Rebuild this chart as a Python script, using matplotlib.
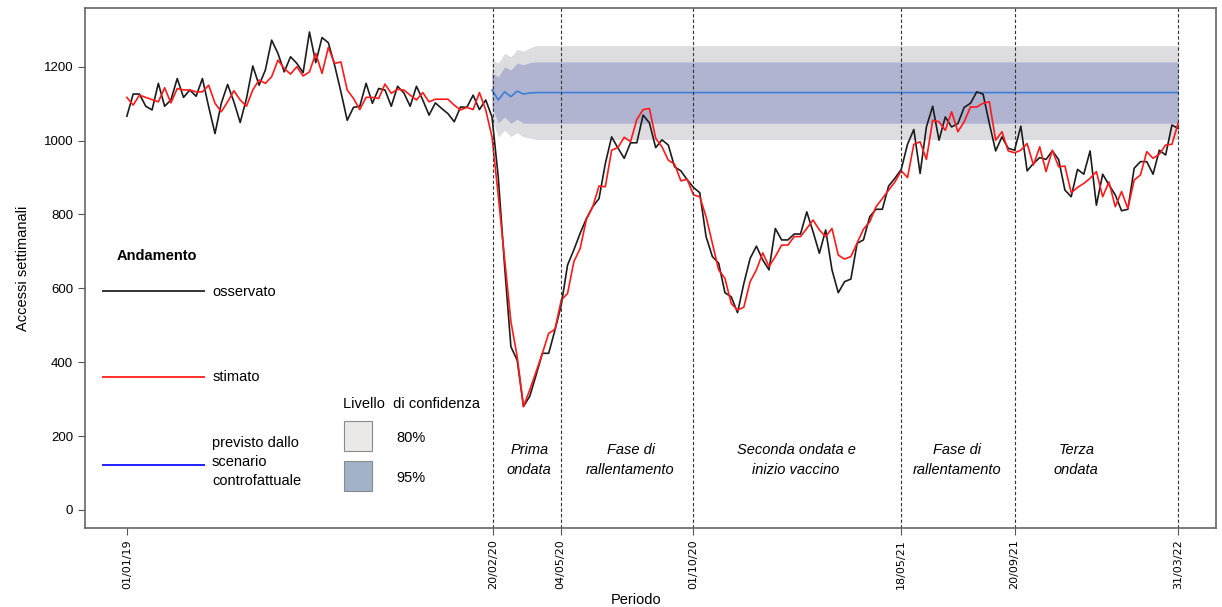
import matplotlib.pyplot as plt
from matplotlib.patches import Rectangle
from matplotlib.lines import Line2D

# accessi settimanali, una osservazione per settimana a partire da 01/01/19
osservato = [
    1066, 1126, 1126, 1093, 1083, 1155, 1093, 1110, 1168, 1117,
    1137, 1120, 1168, 1091, 1019, 1101, 1152, 1105, 1049, 1114,
    1202, 1150, 1191, 1272, 1236, 1186, 1227, 1209, 1184, 1294,
    1211, 1279, 1265, 1204, 1132, 1055, 1090, 1093, 1155, 1101,
    1141, 1137, 1093, 1147, 1129, 1093, 1147, 1110, 1069, 1102,
    1087, 1073, 1051, 1091, 1090, 1123, 1084, 1110, 1064,
    900, 660, 442, 405, 280, 308, 365, 424, 424, 487,
    555, 663, 704, 749, 789, 821, 843, 938, 1010, 980,
    952, 994, 994, 1069, 1048, 981, 1002, 988, 929, 918,
    894, 873, 859, 740, 686, 668, 588, 577, 534, 613,
    681, 714, 677, 650, 762, 731, 731, 747, 747, 807,
    753, 695, 758, 650, 588, 618, 625, 722, 731, 794,
    814, 814, 877, 898, 922, 990, 1030, 911, 1037, 1093,
    1001, 1064, 1037, 1046, 1090, 1101, 1132, 1126, 1046, 972,
    1010, 979, 974, 1039, 918, 938, 954, 949, 972, 949,
    866, 848, 922, 909, 972, 825, 909, 880, 853, 810,
    814, 925, 943, 943, 909, 974, 961, 1042, 1033,
]
stimato = [
    1117, 1096, 1123, 1117, 1111, 1105, 1143, 1102, 1141, 1137,
    1137, 1132, 1132, 1150, 1101, 1078, 1105, 1135, 1110, 1093,
    1137, 1164, 1155, 1173, 1218, 1195, 1180, 1200, 1175, 1186,
    1236, 1182, 1252, 1209, 1213, 1137, 1114, 1084, 1117, 1117,
    1114, 1153, 1128, 1139, 1137, 1123, 1110, 1130, 1105, 1112,
    1112, 1112, 1096, 1083, 1090, 1084, 1130, 1083, 1010,
    850, 680, 510, 415, 280, 325, 374, 424, 478, 489,
    568, 586, 672, 708, 787, 821, 877, 875, 974, 981,
    1009, 997, 1057, 1084, 1087, 1006, 983, 947, 936, 891,
    895, 853, 848, 794, 722, 650, 627, 559, 541, 549,
    618, 650, 696, 659, 686, 717, 717, 740, 740, 762,
    785, 758, 740, 762, 690, 679, 686, 723, 760, 780,
    821, 843, 866, 888, 918, 900, 990, 997, 949, 1055,
    1051, 1028, 1078, 1024, 1051, 1091, 1091, 1101, 1105, 1001,
    1024, 972, 967, 974, 992, 934, 983, 916, 974, 929,
    931, 859, 873, 884, 898, 916, 848, 888, 821, 862,
    816, 893, 907, 970, 952, 963, 988, 990, 1048,
]

# scenario controfattuale (dalla settimana 58) e semiampiezze delle bande
inizio_previsto = 58
previsto = [1137, 1110, 1132, 1119, 1134, 1126, 1129] + [1130] * 103
semi_interna = [48, 62, 68, 72, 76, 79, 82] + [83] * 103
semi_esterna = [81, 100, 104, 108, 113, 116, 122] + [127] * 103

tick_pos = [0, 58.2, 68.9, 90, 123, 141, 167]
tick_lab = ["01/01/19", "20/02/20", "04/05/20", "01/10/20", "18/05/21", "20/09/21", "31/03/22"]

fasi = ["Prima\nondata", "Fase di\nrallentamento", "Seconda ondata e\ninizio vaccino",
        "Fase di\nrallentamento", "Terza\nondata"]
fasi_x = [63.9, 80, 106.3, 131.8, 150.8]

plt.rcParams['font.family'] = ['Liberation Sans', 'DejaVu Sans']

W, H = 1222, 607


def fx(px):
    return px / W


def fy(py):
    return 1 - py / H


fig = plt.figure(figsize=(W / 100, H / 100), dpi=100)
ax = fig.add_axes([fx(85), fy(528), (1216 - 85) / W, (528 - 8) / H])

x = list(range(len(osservato)))
xp = list(range(inizio_previsto, inizio_previsto + len(previsto)))
lo_e = [p - s for p, s in zip(previsto, semi_esterna)]
hi_e = [p + s for p, s in zip(previsto, semi_esterna)]
lo_i = [p - s for p, s in zip(previsto, semi_interna)]
hi_i = [p + s for p, s in zip(previsto, semi_interna)]

ax.fill_between(xp, lo_e, hi_e, color='#dcdce1', lw=0)
ax.fill_between(xp, lo_i, hi_i, color='#b0b4d0', lw=0)
ax.plot(xp, previsto, color='#3a7fd8', lw=1.2)
ax.plot(x, osservato, color='#1c1c1c', lw=1.2)
ax.plot(x, stimato, color='#ff1a1a', lw=1.2)

for p in tick_pos[1:]:
    ax.axvline(p, color='#333333', ls=(0, (3, 2)), lw=0.8)

for t, px in zip(fasi, fasi_x):
    ax.text(px, 135, t, ha='center', va='center', style='italic', fontsize=10.5,
            linespacing=1.5)

ax.set_xlim(-6.65, 173)
ax.set_ylim(-49, 1359)
ax.set_xticks(tick_pos)
ax.set_xticklabels(tick_lab, rotation=90, fontsize=8, family='DejaVu Sans')
ax.set_yticks([0, 200, 400, 600, 800, 1000, 1200])
ax.tick_params(axis='y', labelsize=9.5, length=5, color='#555555')
ax.tick_params(axis='x', length=5, color='#555555', pad=3)
for s in ax.spines.values():
    s.set_color('#666666')
    s.set_linewidth(1.2)

ax.set_ylabel("Accessi settimanali", fontsize=10.5, labelpad=10)
fig.text(fx(636), fy(600), "Periodo", ha='center', va='center', fontsize=10.5)

# legenda andamento
fig.text(fx(117), fy(256), "Andamento", weight='bold', va='center', fontsize=10.5)
leg_lines = [("#333333", 291), ("#ff3030", 377), ("#2020ff", 465)]
for col, py in leg_lines:
    fig.add_artist(Line2D([fx(103), fx(204)], [fy(py), fy(py)], color=col, lw=1.4))
fig.text(fx(212), fy(292), "osservato", va='center', fontsize=10.5)
fig.text(fx(213), fy(377), "stimato", va='center', fontsize=10.5)
fig.text(fx(212), fy(462), "previsto dallo\nscenario\ncontrofattuale", va='center',
         fontsize=10.5, linespacing=1.45)

# legenda livello di confidenza
fig.text(fx(343), fy(404), "Livello  di confidenza", va='center', fontsize=10.5)
for col, top, lab in [("#ebe8e8", 421, "80%"), ("#a2b2c8", 461, "95%")]:
    fig.add_artist(Rectangle((fx(344), fy(top + 29.5)), 28.3 / W, 29.5 / H,
                             transform=fig.transFigure, facecolor=col,
                             edgecolor='#8a8a8a', lw=0.8))
    fig.text(fx(396), fy(top + 17), lab, va='center', fontsize=10.5)

fig.savefig("out.png", dpi=100)
